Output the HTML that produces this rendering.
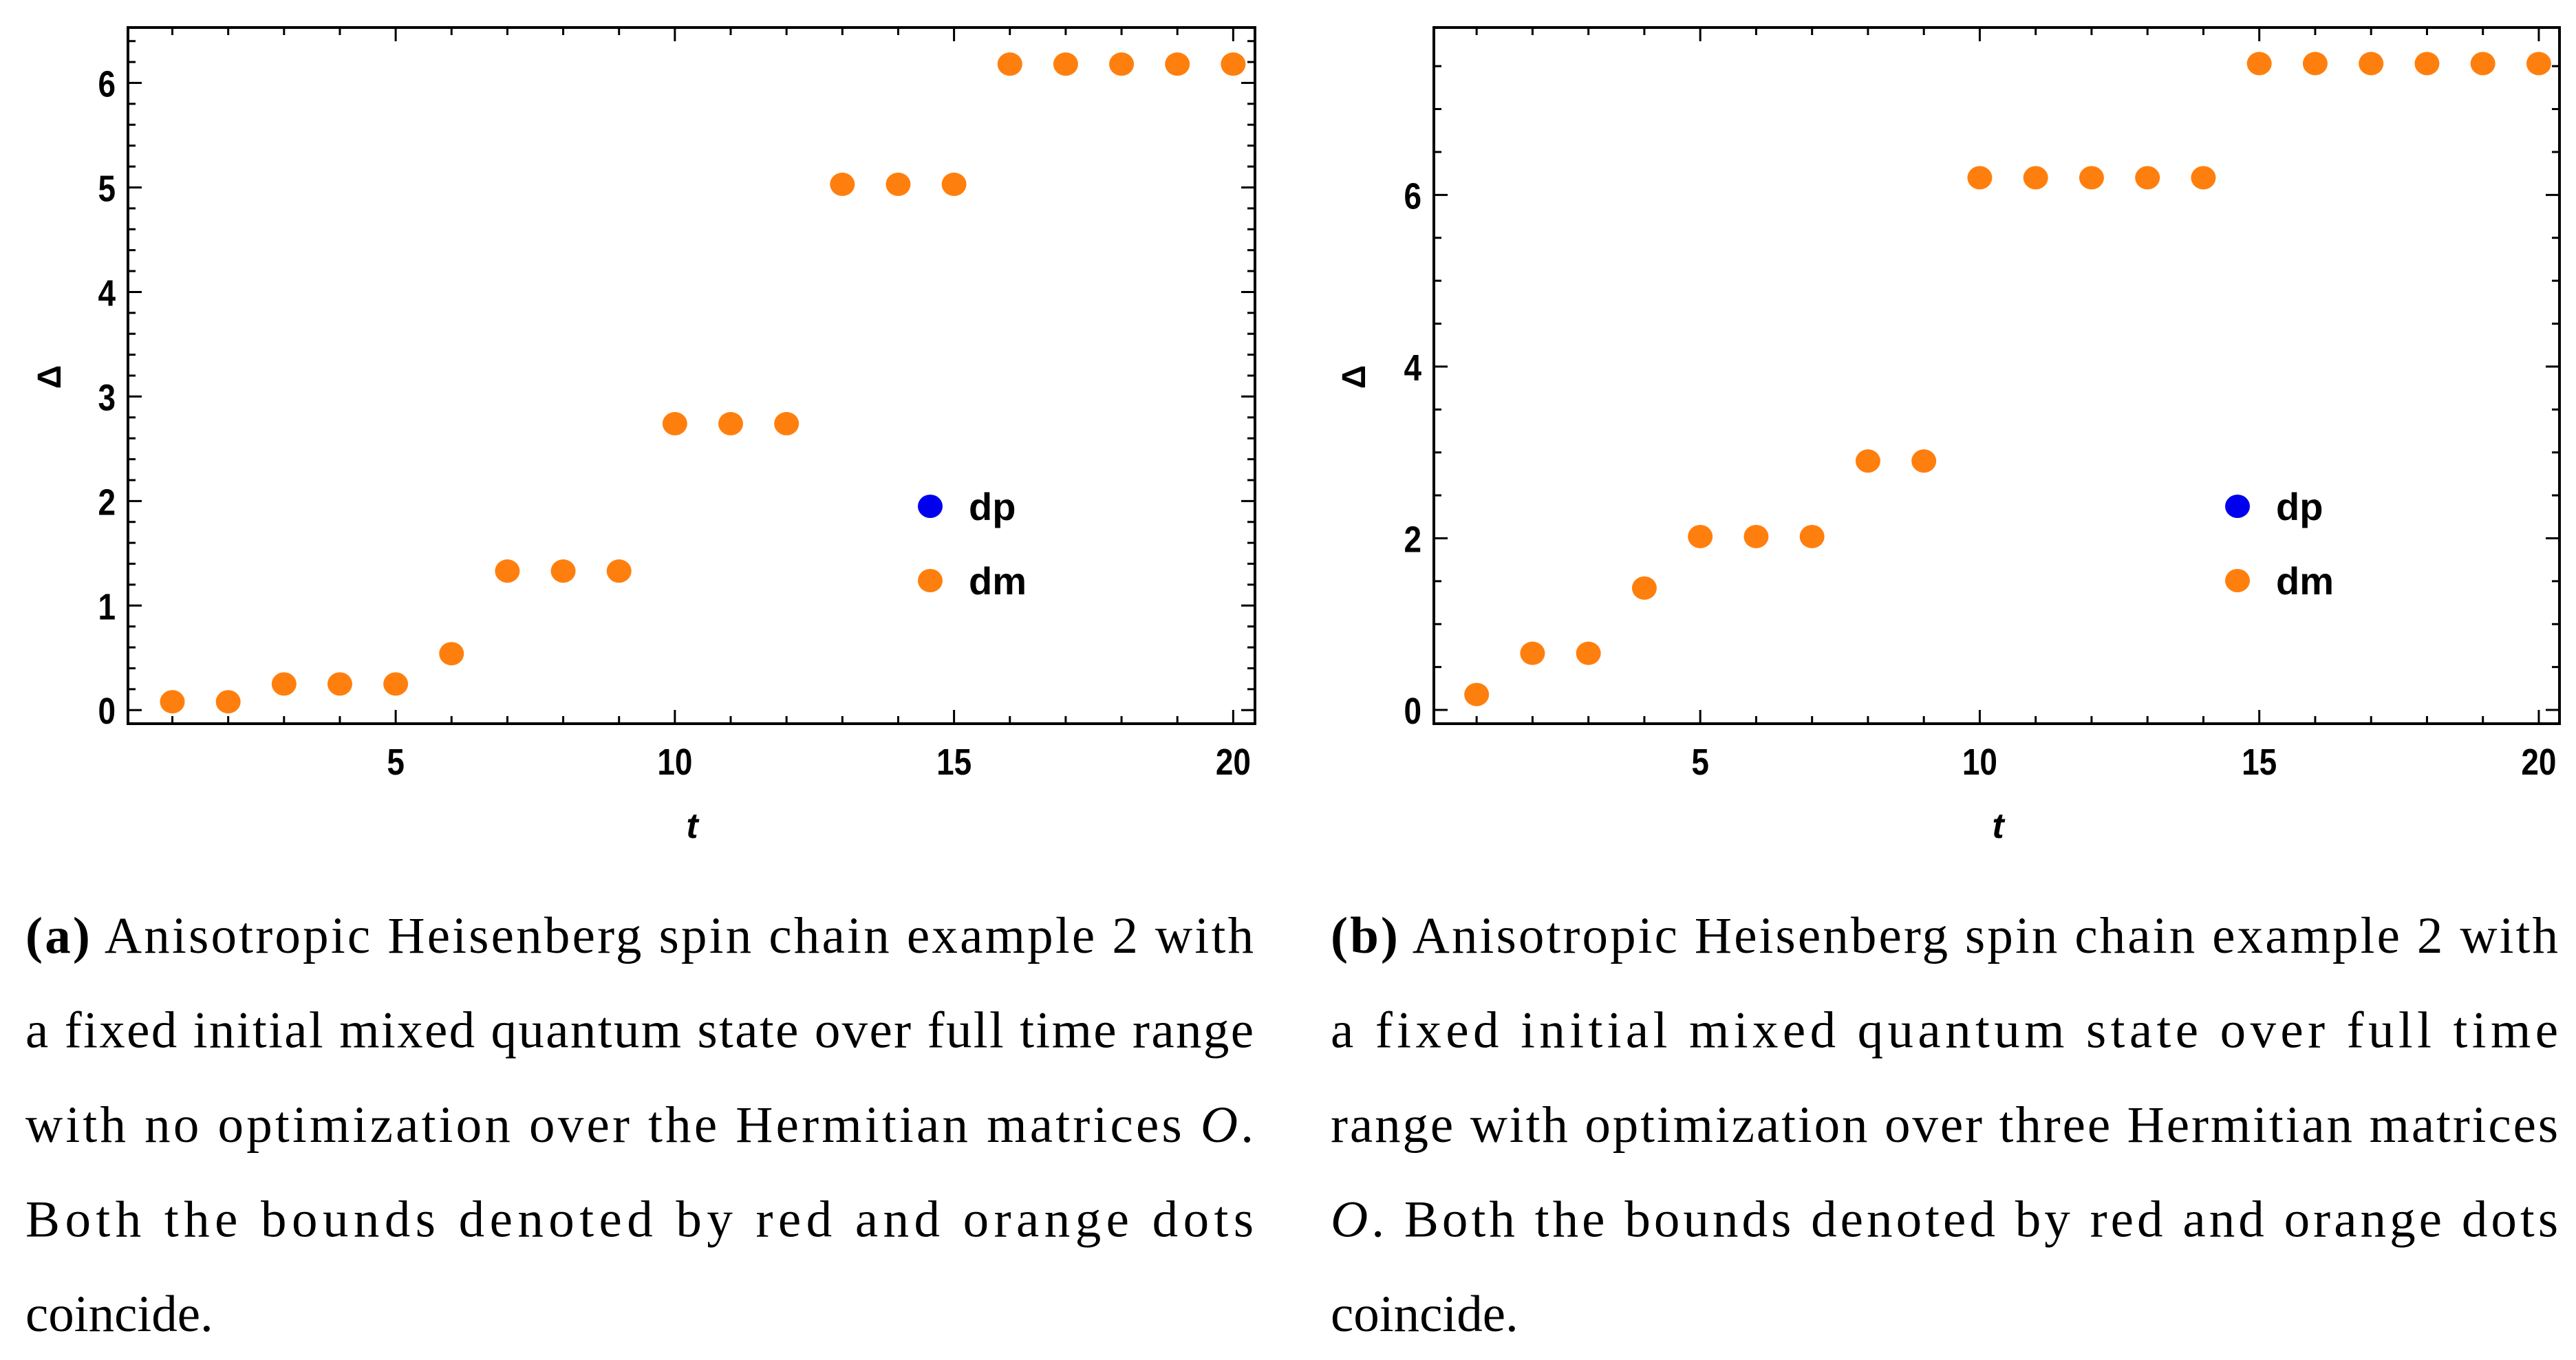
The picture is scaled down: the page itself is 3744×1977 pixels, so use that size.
<!DOCTYPE html>
<html><head><meta charset="utf-8"><style>
html,body{margin:0;padding:0;background:#fff;}
svg{display:block;}
</style></head><body>
<svg id="root" width="3744" height="1977" viewBox="0 0 3744 1977" xmlns="http://www.w3.org/2000/svg">
<g id="chartA"></g>
<g id="chartB"></g>
<g id="captions" font-family="'Liberation Serif', serif" font-size="75" fill="#000"></g>
</svg>
<script>
const tValues = [1,2,3,4,5,6,7,8,9,10,11,12,13,14,15,16,17,18,19,20];
const dmA = [0.08,0.08,0.25,0.25,0.25,0.54,1.33,1.33,1.33,2.74,2.74,2.74,5.03,5.03,5.03,6.18,6.18,6.18,6.18,6.18];
const dmB = [0.18,0.66,0.66,1.42,2.02,2.02,2.02,2.9,2.9,6.2,6.2,6.2,6.2,6.2,7.53,7.53,7.53,7.53,7.53,7.53];
const xTicks = [5,10,15,20];
const yTicksA = [0,1,2,3,4,5,6];
const yTicksB = [0,2,4,6];
const legendLabels = ['dp','dm'];

const NS='http://www.w3.org/2000/svg';
function mk(tag, attrs, parent){const e=document.createElementNS(NS,tag);for(const k in attrs)e.setAttribute(k,attrs[k]);parent.appendChild(e);return e;}
const TF="'Liberation Sans Narrow','Liberation Sans',sans-serif";

function drawChart(g, cfg, data, yTicks){
  const sx=v=>cfg.x0+(v-cfg.xmin)/(cfg.xmax-cfg.xmin)*(cfg.x1-cfg.x0);
  const sy=v=>cfg.y1-(v-cfg.ymin)/(cfg.ymax-cfg.ymin)*(cfg.y1-cfg.y0);
  const frame=mk('rect',{x:cfg.x0,y:cfg.y0,width:cfg.x1-cfg.x0,height:cfg.y1-cfg.y0,fill:'none',stroke:'#000','stroke-width':4},g);
  
  
  for(let v=1; v<=20; v++){
    const x=sx(v); const major=(v%5===0); const L=major?20:11;
    mk('line',{x1:x,y1:cfg.y1,x2:x,y2:cfg.y1-L,stroke:'#000','stroke-width':3},g);
    mk('line',{x1:x,y1:cfg.y0,x2:x,y2:cfg.y0+L,stroke:'#000','stroke-width':3},g);
  }
  xTicks.forEach(v=>{
    const t=mk('text',{x:0,y:0,'text-anchor':'middle','font-family':TF,'font-weight':'bold','font-size':54,transform:`translate(${sx(v)},${cfg.y1+74}) scale(0.85,1)`},g);
    t.textContent=v;
    
    
  });
  for(let v=0; v<=cfg.ymax+1e-9; v+=cfg.minor){
    const vv=Math.round(v*100)/100; const y=sy(vv);
    const major=Math.abs(vv/cfg.major-Math.round(vv/cfg.major))<1e-6; const L=major?20:11;
    mk('line',{x1:cfg.x0,y1:y,x2:cfg.x0+L,y2:y,stroke:'#000','stroke-width':3},g);
    mk('line',{x1:cfg.x1,y1:y,x2:cfg.x1-L,y2:y,stroke:'#000','stroke-width':3},g);
  }
  yTicks.forEach(v=>{
    const t=mk('text',{x:0,y:0,'text-anchor':'end','font-family':TF,'font-weight':'bold','font-size':54,transform:`translate(${cfg.x0-18},${sy(v)+20}) scale(0.85,1)`},g);
    t.textContent=v;
    
    
  });
  const xt=mk('text',{x:cfg.xTitleX,y:1218,'text-anchor':'middle','font-family':"'Liberation Sans','DejaVu Sans',sans-serif",'font-style':'italic','font-weight':'bold','font-size':52},g);
  xt.textContent='t';
  
  
  const yt=mk('text',{x:0,y:0,'text-anchor':'middle','font-family':"'Liberation Sans','DejaVu Sans',sans-serif",'font-weight':'bold','font-size':48,transform:`translate(${cfg.yTitleX},548) rotate(-90)`},g);
  yt.textContent='Δ';
  
  
  data.forEach((d,i)=>{
    const c=mk('ellipse',{cx:sx(tValues[i]),cy:sy(d),rx:18,ry:17,fill:'#ff7f0e'},g);
    
    
  });
  const colors=['#0000ee','#ff7f0e'];
  legendLabels.forEach((lab,i)=>{
    const y=736+i*108;
    const c=mk('ellipse',{cx:cfg.legX,cy:y,rx:18,ry:17,fill:colors[i]},g);
    
    
    const t=mk('text',{x:cfg.legX+56,y:y+20,'font-family':TF,'font-weight':'bold','font-size':56},g);
    t.textContent=lab;
    
    
  });
}
const cfgA={x0:186,x1:1824,y0:40,y1:1052,xmin:0.205,xmax:20.39,ymin:-0.13,ymax:6.53,minor:0.2,major:1,xTitleX:1006,yTitleX:88,legX:1352};
const cfgB={x0:2084,x1:3720,y0:40,y1:1052,xmin:0.235,xmax:20.37,ymin:-0.16,ymax:7.95,minor:0.5,major:2,xTitleX:2904,yTitleX:1984,legX:3252};
drawChart(document.getElementById('chartA'),cfgA,dmA,yTicksA);
drawChart(document.getElementById('chartB'),cfgB,dmB,yTicksB);

const capG=document.getElementById('captions');
const capA=[
 [['(a)',true],[' Anisotropic Heisenberg spin chain example 2 with',false]],
 [['a fixed initial mixed quantum state over full time range',false]],
 [['with no optimization over the Hermitian matrices ',false],['O',false,true],['.',false]],
 [['Both the bounds denoted by red and orange dots',false]],
 [['coincide.',false]]
];
const capB=[
 [['(b)',true],[' Anisotropic Heisenberg spin chain example 2 with',false]],
 [['a fixed initial mixed quantum state over full time',false]],
 [['range with optimization over three Hermitian matrices',false]],
 [['O',false,true],['. Both the bounds denoted by red and orange dots',false]],
 [['coincide.',false]]
];
function drawCaption(lines,x,w,name){
  lines.forEach((parts,i)=>{
    const y=1385+i*137.5;
    const last=i===lines.length-1;
    const t=mk('text',{x:x,y:y},capG);
    if(!last){t.setAttribute('textLength',w);t.setAttribute('lengthAdjust','spacing');}
    
    
    parts.forEach(p=>{
      const s=mk('tspan',{},t);
      if(p[1])s.setAttribute('font-weight','bold');
      if(p[2])s.setAttribute('font-style','italic');
      s.textContent=p[0];
    });
  });
}
drawCaption(capA,37,1785,'caption-a');
drawCaption(capB,1934,1784,'caption-b');
</script>
</body></html>
